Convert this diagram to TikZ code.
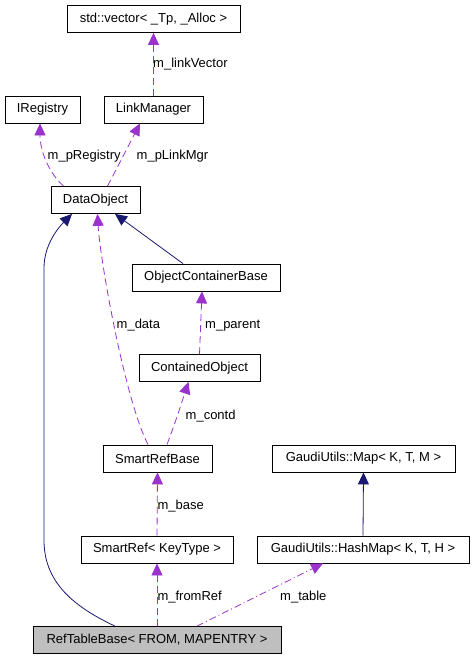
\documentclass[tikz,border=0pt]{standalone}
\usepackage{fontspec}
\setmainfont{Liberation Sans}
\usetikzlibrary{arrows.meta}
\definecolor{inherit}{HTML}{191970}
\definecolor{usage}{HTML}{9A32CD}
\definecolor{focus}{HTML}{BFBFBF}

\begin{document}
\begin{tikzpicture}[x=1pt, y=-1pt,
  every node/.style={font=\fontsize{13}{15}\selectfont},
  cls/.style={draw, line width=0.8pt, minimum height=27pt, inner sep=0pt},
  lbl/.style={anchor=base west, inner sep=0pt},
  isa/.style={inherit, line width=0.8pt, -{Triangle[length=12pt,width=11pt]}},
  uses/.style={usage, line width=0.8pt, dash pattern=on 7pt off 4pt, -{Triangle[length=12pt,width=11pt]}}]
\useasboundingbox[fill=white] (0,0) rectangle (473,658);
\node[cls, minimum width=173pt] (vec)  at (153.5,19)  {std::vector< \_Tp, \_Alloc >};
\node[cls, minimum width=75pt]  (ireg) at (42.5,109.5) {IRegistry};
\node[cls, minimum width=99pt]  (lmgr) at (153.5,109.5) {LinkManager};
\node[cls, minimum width=89pt]  (dobj) at (95.5,200)  {DataObject};
\node[cls, minimum width=148pt] (ocb)  at (206,277.5) {ObjectContainerBase};
\node[cls, minimum width=121pt] (cobj) at (199.5,368) {ContainedObject};
\node[cls, minimum width=109pt] (srb)  at (157.5,458.5) {SmartRefBase};
\node[cls, minimum width=183pt] (gmap) at (363.5,458.5) {GaudiUtils::Map< K, T, M >};
\node[cls, minimum width=152pt] (sref) at (157,549.5) {SmartRef< KeyType >};
\node[cls, minimum width=212pt] (hmap) at (363,549.5) {GaudiUtils::HashMap< K, T, H >};
\node[cls, fill=focus, minimum width=248pt] (rtb) at (157,640) {RefTableBase< FROM, MAPENTRY >};

\node[lbl] (lvec)  at (153,68)    {m\_linkVector};
\node[lbl] (lreg)  at (47.5,159.5) {m\_pRegistry};
\node[lbl] (llmgr) at (136.5,159.5) {m\_pLinkMgr};
\node[lbl] (ldata) at (116.5,328) {m\_data};
\node[lbl] (lpar)  at (205,328)   {m\_parent};
\node[lbl] (lcont) at (185.5,419) {m\_contd};
\node[lbl] (lbase) at (157.3,509) {m\_base};
\node[lbl] (lfrom) at (157.3,600) {m\_fromRef};
\node[lbl] (ltab)  at (280,600)   {m\_table};

\draw[uses] (lmgr.north) -- (vec.south);
\draw[uses] ([xshift=-32pt]dobj.north) .. controls (48,172) and (40,150) .. ([xshift=-2.5pt]ireg.south);
\draw[uses] ([xshift=12pt]dobj.north) .. controls (117,168) .. ([xshift=-13.5pt]lmgr.south);
\draw[isa] ([xshift=-42pt]rtb.north) .. controls (70,605) and (44,580) .. (44,540)
  -- (44,268) .. controls (44,245) and (58,228) .. ([xshift=-23.5pt]dobj.south);
\draw[isa] ([xshift=-23pt]ocb.north) -- ([xshift=19.5pt]dobj.south);
\draw[uses] ([xshift=-9.5pt]srb.north) .. controls (125,400) and (100,260) .. ([xshift=2pt]dobj.south);
\draw[uses] (cobj.north) -- ([xshift=-4pt]ocb.south);
\draw[uses] ([xshift=9.5pt]srb.north) .. controls (176,420) .. ([xshift=-11pt]cobj.south);
\draw[uses] (sref.north) -- (srb.south);
\draw[uses] (rtb.north) -- (sref.south);
\draw[usage, line width=0.8pt, dash pattern=on 7pt off 3pt on 1pt off 3pt, -{Triangle[length=12pt,width=11pt]}]
  ([xshift=40pt]rtb.north) -- ([xshift=-40pt]hmap.south);
\draw[isa] (hmap.north) -- (gmap.south);
\end{tikzpicture}
\end{document}
